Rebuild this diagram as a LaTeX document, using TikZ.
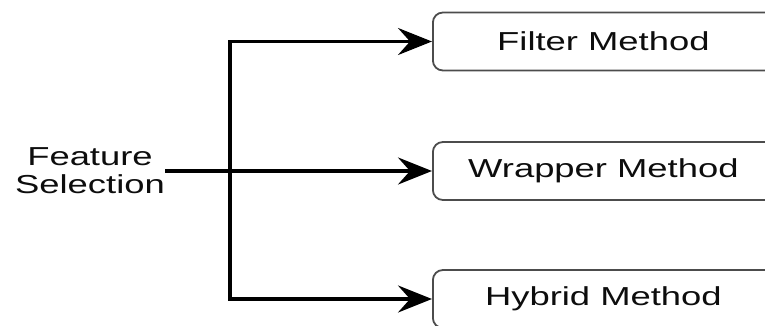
\documentclass[tikz,border=0pt]{standalone}
\usepackage{fontspec}
\setmainfont[FakeStretch=1.40]{Liberation Sans}
\usetikzlibrary{arrows.meta}

\begin{document}
\begin{tikzpicture}[x=1pt,y=-1pt,
    method/.style={draw=black!70,line width=1.8pt,rounded corners=10pt,
        minimum width=345pt,minimum height=58pt,inner sep=0pt,
        font=\fontsize{26}{28}\selectfont,text=black!95},
    conn/.style={line width=3.2pt,
        arrows={-Stealth[length=34pt,width=27pt,inset=12pt]}}]
            \useasboundingbox (0,0) rectangle (765,326);
            \clip (0,0) rectangle (765,326);
            \node[align=center,inner sep=0pt,font=\fontsize{26}{28}\selectfont,text=black!95] (feat) at (90,171) {Feature\\Selection};
            \node[method,anchor=west] (filter) at (432,41.5) {\hspace*{-4pt}Filter Method};
            \node[method,anchor=west] (wrapper) at (432,171) {\hspace*{-4pt}Wrapper Method};
            \node[method,anchor=west] (hybrid) at (432,299) {\hspace*{-4pt}Hybrid Method};
            \coordinate (split) at (230,171);
            \draw[conn] (feat.east |- wrapper.west) -- (wrapper.west);
            \draw[conn] (split) |- (filter.west);
            \draw[conn] (split) |- (hybrid.west);
        \end{tikzpicture}
\end{document}
